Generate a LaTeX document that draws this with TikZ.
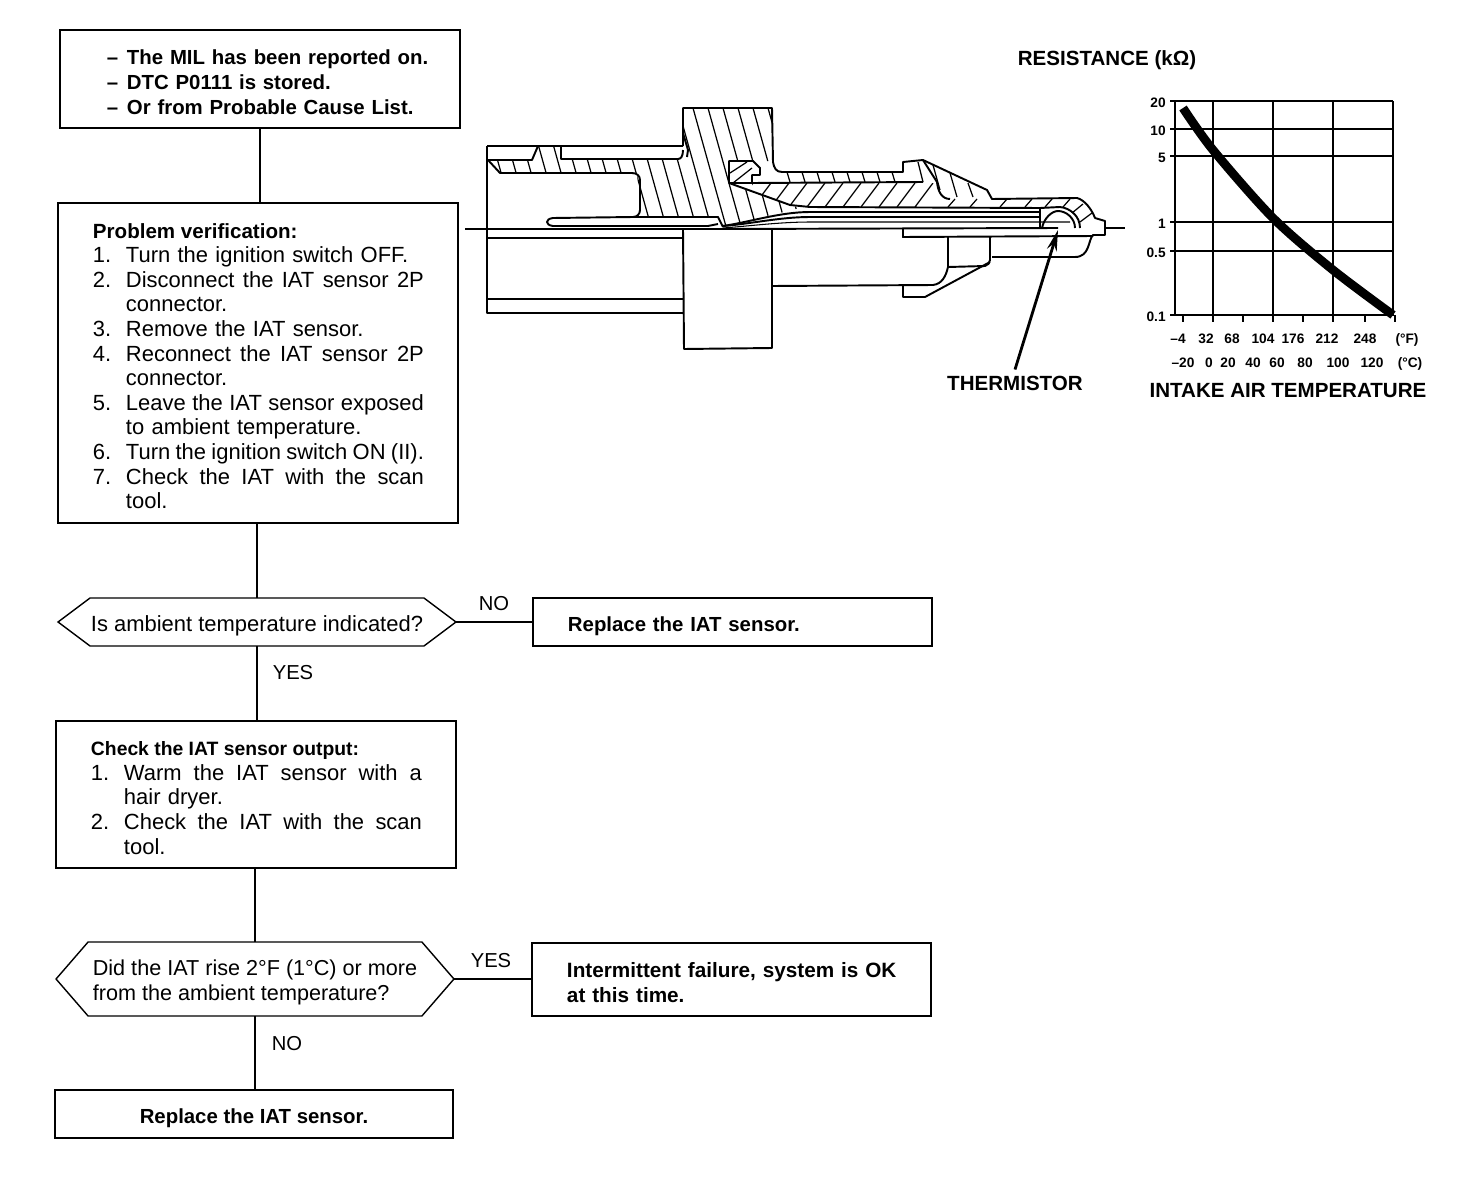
\documentclass[tikz,border=0pt]{standalone}
\usepackage{fontspec}
\setmainfont{Liberation Sans}
\usetikzlibrary{arrows.meta, positioning, shapes.symbols}
\newcommand{\numline}[2]{\makebox[0.66cm][l]{#1}#2}
\newcommand{\fullline}[2]{\makebox[0.66cm][l]{#1}\makebox[5.96cm][s]{\spaceskip=.278em plus 1em minus .1em\relax #2}}
\newcommand{\contline}[1]{\hspace*{0.66cm}#1}
\newcommand{\dashline}[1]{\hspace*{0.2cm}\makebox[0.4cm][l]{--}\mbox{#1}}
\newcommand{\headline}[2]{{\fontsize{#1}{14}\selectfont\bfseries\spaceskip=.278em\relax #2}}
\newcommand{\topgap}{\rule{0pt}{12pt}}
\newcommand{\onegap}{\rule{0pt}{13pt}}

\begin{document}
\begin{tikzpicture}[
  x=0.02cm, y=-0.02cm,
  every node/.style={font=\fontsize{12.5}{14}\selectfont},
  box/.style={rectangle, draw, line width=0.8pt, anchor=north west, outer sep=0pt, align=left},
  boldbox/.style={box, font=\fontsize{11.6}{14}\selectfont\bfseries},
  hexa/.style={signal, signal to=west and east, draw, line width=0.8pt, outer sep=0pt, align=left, inner sep=0pt},
  link/.style={line width=0.8pt},
  lbl/.style={font=\fontsize{11.5}{13}\selectfont},
  bigb/.style={font=\fontsize{11.7}{13}\selectfont\bfseries},
  tinyb/.style={font=\fontsize{7.8}{9}\selectfont\bfseries, inner sep=0pt, text height=1.5ex, text depth=0pt},
  part/.style={line width=1.1pt, line join=round},
  thinpart/.style={line width=0.6pt},
  hatch/.style={line width=0.7pt},
  grid/.style={line width=1.3pt}
]
\useasboundingbox (0,0) rectangle (1472,1190);

\node[boldbox, minimum height=1.96cm, text width=6.52cm, inner xsep=0.74cm] (start) at (60,30) {\topgap\dashline{The MIL has been reported on.}\\ \dashline{DTC P0111 is stored.}\\ \dashline{Or from Probable Cause List.}};

\node[box, minimum height=6.4cm, text width=6.6cm, inner xsep=0.7cm] (verify) at (58,203) {\topgap\headline{11.7}{Problem verification:}\\
\numline{1.}{Turn the ignition switch OFF.}\\
\fullline{2.}{Disconnect the IAT sensor 2P}\\
\contline{connector.}\\
\numline{3.}{Remove the IAT sensor.}\\
\fullline{4.}{Reconnect the IAT sensor 2P}\\
\contline{connector.}\\
\fullline{5.}{Leave the IAT sensor exposed}\\
\contline{to ambient temperature.}\\
\fullline{6.}{Turn the ignition switch ON (II).}\\
\fullline{7.}{Check the IAT with the scan}\\
\contline{tool.}};

\node[hexa, signal pointer angle=73.74, minimum width=7.96cm, minimum height=0.96cm] (ask1) at (257,622) {\onegap Is ambient temperature indicated?};
\node[boldbox, minimum height=0.96cm, text width=6.58cm, inner xsep=0.7cm] (swap1) at (533,598) {\onegap Replace the IAT sensor.};

\node[box, minimum height=2.94cm, text width=6.6cm, inner xsep=0.7cm] (output) at (56,721) {\topgap\headline{11}{Check the IAT sensor output:}\\
\fullline{1.}{Warm the IAT sensor with a}\\
\contline{hair dryer.}\\
\fullline{2.}{Check the IAT with the scan}\\
\contline{tool.}};

\node[hexa, font=\fontsize{12.3}{14}\selectfont, signal pointer angle=98.2, minimum width=7.96cm, minimum height=1.48cm] (ask2) at (255,979) {\onegap Did the IAT rise 2°F (1°C) or more\\from the ambient temperature?};
\node[boldbox, font=\fontsize{11.8}{14}\selectfont\bfseries, minimum height=1.46cm, text width=6.58cm, inner xsep=0.7cm] (okay) at (532,943) {\topgap\mbox{Intermittent failure, system is OK}\\at this time.};

\node[boldbox, minimum height=0.96cm, minimum width=7.96cm, align=center] (swap2) at (55,1090) {\onegap Replace the IAT sensor.};

\draw[link] (start.south) -- (start.south |- verify.north);
\draw[link] (ask1.north |- verify.south) -- (ask1.north);
\draw[link] (ask1.south) -- (ask1.south |- output.north);
\draw[link] (ask2.north |- output.south) -- (ask2.north);
\draw[link] (ask2.south) -- (ask2.south |- swap2.north);
\draw[link] (ask1.east) -- (ask1.east -| swap1.west);
\draw[link] (ask2.east) -- (ask2.east -| okay.west);

\node[lbl] (no1) at (494,604) {NO};
\node[lbl] (yes1) at (293,673) {YES};
\node[lbl] (yes2) at (491,961) {YES};
\node[lbl] (no2) at (287,1044) {NO};

\begin{scope}
\clip (488,160) -- (532,160) -- (538,146) -- (561,146) -- (561,159) -- (680,159) -- (683,150) -- (683,108) -- (772,108) -- (773,161) -- (729,161) -- (729,183) -- (790,205) -- (800,208) -- (723,227) -- (718,217) -- (635,217) -- (640,212) -- (637,173) -- (500,173) -- cycle;
\foreach \x in {483,498,...,783} {\draw[hatch] (\x,108) -- ({\x+34},230);}
\end{scope}
\begin{scope}
\clip (752,183) -- (937,183) -- (941,195) -- (925,207) -- (800,207) -- (790,205) -- (752,191) -- cycle;
\foreach \x in {735,753,...,935} {\draw[hatch] (\x,207) -- ({\x+18},183);}
\end{scope}
\foreach \x in {787,802,...,892} {\draw[hatch] (\x,172) -- ({\x+3},182);}
\draw[hatch] (730,173) -- (747,162) (733,183) -- (752,168);
\draw[hatch] (918,162) -- (923,182) (933,165) -- (940,190) (950,173) -- (957,197) (968,183) -- (973,197);
\foreach \x in {948,970,1000,1025,1045,1063} {\draw[hatch] (\x,207) -- ({\x+7},199);}
\draw[hatch] (1072,213) -- (1083,204) (1080,222) -- (1092,213);

\draw[part] (487,146) -- (683,146) (487,146) -- (487,313) -- (683,313);
\draw[part] (487,238) -- (683,238) (487,299) -- (683,299);
\draw[part] (488,160) -- (532,160) -- (538,146) (488,160) -- (500,173) -- (632,173) .. controls (637,173) and (640,176) .. (640,180) -- (640,210) .. controls (640,214) and (637,217) .. (633,217) -- (718,217) -- (723,227);
\draw[part] (633,217) -- (553,218) .. controls (545,219) and (545,225) .. (553,226) -- (708,226) -- (718,224);
\draw[part] (561,146) -- (561,159) -- (678,159) .. controls (681,159) and (683,156) .. (683,150);
\draw[part] (683,146) -- (683,108) -- (772,108) -- (773,162) .. controls (774,168) and (776,172) .. (782,172) -- (903,172) -- (903,162) -- (923,160) -- (987,190) -- (992,199) -- (1077,198) .. controls (1085,200) and (1092,210) .. (1095,218) -- (1105,221) -- (1105,235) -- (1093,235) .. controls (1088,240) and (1090,257) .. (1075,257) -- (992,257);
\draw[part] (683,133) -- (688,150) -- (687,157);
\draw[part] (729,161) -- (753,161) -- (760,168) -- (760,175) -- (752,175) -- (752,183) -- (729,183) -- cycle;
\draw[part] (729,183) -- (790,205) -- (810,207) -- (1040,208) -- (1040,228);
\draw[part] (752,183) -- (923,182) (937,182) .. controls (938,192) and (942,199) .. (950,199);
\draw[part] (923,160) -- (937,182);
\draw[part] (1040,208) -- (1060,207) .. controls (1070,208) and (1080,216) .. (1080,228);
\draw[part] (1042,228) .. controls (1044,218) and (1052,211) .. (1058,211) .. controls (1066,211) and (1075,218) .. (1075,228);
\draw[part] (723,226) .. controls (750,222) and (780,212) .. (810,212) -- (1040,212);
\draw[part] (723,226) .. controls (750,224) and (780,217) .. (810,217) -- (1040,217);
\draw[thinpart] (723,228) .. controls (750,226) and (780,222) .. (810,222) -- (1070,222);
\draw[part] (723,229) -- (1058,228);
\draw[part] (683,229) -- (684,349) -- (772,348) -- (772,230);
\draw[part] (772,286) -- (933,285) .. controls (942,284) and (946,276) .. (948,267) -- (948,237);
\draw[part] (948,267) -- (985,266) .. controls (988,265) and (990,263) .. (990,260) -- (990,237);
\draw[part] (903,229) -- (903,237) -- (1093,236);
\draw[part] (903,285) -- (903,297) -- (925,297) -- (990,262);
\draw[thinpart] (465,229) -- (723,229);
\draw[thinpart] (1105,228) -- (1125,228);

\node[bigb] (therm) at (1015,383) {THERMISTOR};
\draw[line width=1.6pt, -{Stealth[length=0.42cm, width=0.2cm]}] (therm.north) -- (1058,230);

\node[bigb] (restitle) at (1107,60) {RESISTANCE (kΩ)};
\node[bigb] (temptitle) at (1288,391) {INTAKE AIR TEMPERATURE};

\foreach \x in {1175,1213,1273,1333,1393} {\draw[grid] (\x,101) -- (\x,316);}
\foreach \y/\v in {101/20,129/10,156/5,222/1,251/0.5,315/0.1} {
  \draw[grid] (1170,\y) -- (1393,\y);
  \node[tinyb, anchor=east] (r\y) at (1166,\y) {\v};
}
\foreach \x in {1183,1213,1243,1273,1303,1333,1365,1395} {\draw[grid] (\x,315) -- (\x,322);}
\draw[line width=5pt] plot[smooth] coordinates {(1183,108) (1213,150) (1273,218) (1333,270) (1393,315)};
\foreach \x/\v in {1178/--4,1206/32,1232/68,1263/104,1293/176,1327/212,1365/248,1407/(°F)} {\node[tinyb] (f\x) at (\x,337) {\v};}
\foreach \x/\v in {1183/--20,1209/0,1228/20,1253/40,1277/60,1305/80,1338/100,1372/120,1410/(°C)} {\node[tinyb] (c\x) at (\x,361) {\v};}
\end{tikzpicture}
\end{document}
